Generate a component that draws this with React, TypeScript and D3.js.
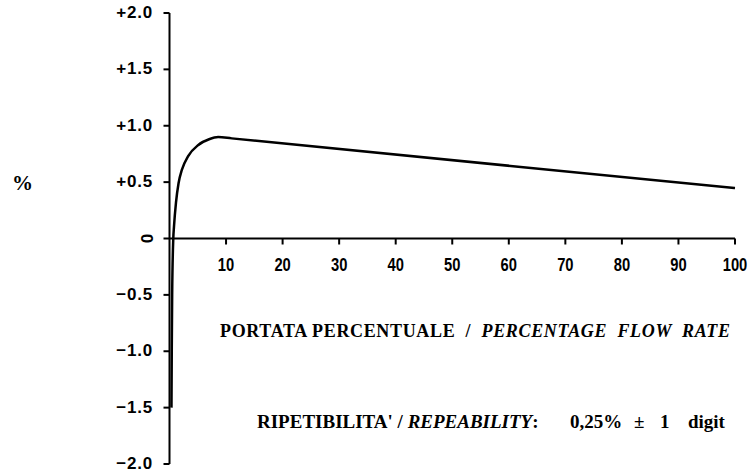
import React from "react";
import * as d3 from "d3";

// accuracy curve (percentage flow rate vs error %)
const flowRate = [0.35, 0.4, 0.47, 0.67, 0.8, 1.15, 1.6, 2.2, 3.3, 5.1, 7, 8.6, 11, 100];
const errorPct = [-1.5, -1.0, -0.5, 0, 0.11, 0.32, 0.49, 0.61, 0.73, 0.83, 0.88, 0.9, 0.888, 0.447];

const xTicks = [10, 20, 30, 40, 50, 60, 70, 80, 90, 100];
const yTicks = [2, 1.5, 1, 0.5, 0, -0.5, -1, -1.5, -2];
const yTickLabels = ["+2.0", "+1.5", "+1.0", "+0.5", "0", "\u22120.5", "\u22121.0", "\u22121.5", "\u22122.0"];

const W = 751,
  H = 472;

const App: React.FC = () => {
  const x = d3.scaleLinear().domain([0, 100]).range([169.5, 735]);
  const y = d3.scaleLinear().domain([-2, 2]).range([464, 13]);

  const pts: [number, number][] = flowRate.map((f, i) => [f, errorPct[i]]);
  const line = d3
    .line<[number, number]>()
    .x((d) => x(d[0]))
    .y((d) => y(d[1]))
    .curve(d3.curveMonotoneX);

  const sans = "'Liberation Sans', Arial, sans-serif";
  const serif = "'Liberation Serif', 'Times New Roman', serif";

  return (
    <svg
      width={W}
      height={H}
      style={{ position: "absolute", left: 0, top: 0, background: "#fff" }}
    >
      {/* y axis */}
      <line x1={x(0)} x2={x(0)} y1={y(2)} y2={y(-2)} stroke="#000" strokeWidth={2} />
      {yTicks.map((t, i) => (
        <g key={t}>
          <line x1={x(0) - 6} x2={x(0)} y1={y(t)} y2={y(t)} stroke="#000" strokeWidth={2} />
          {t === 0 ? (
            <text
              transform={`translate(146.5, ${y(t)}) rotate(90)`}
              textAnchor="middle"
              dominantBaseline="central"
              fontFamily={sans}
              fontWeight="bold"
              fontSize={17}
            >
              0
            </text>
          ) : (
            <text
              x={153}
              y={y(t) + 5}
              textAnchor="end"
              fontFamily={sans}
              fontWeight="bold"
              fontSize={17}
              letterSpacing={0.8}
            >
              {yTickLabels[i]}
            </text>
          )}
        </g>
      ))}

      {/* x axis */}
      <line x1={x(0)} x2={x(100)} y1={y(0)} y2={y(0)} stroke="#000" strokeWidth={2} />
      {xTicks.map((t) => (
        <g key={t}>
          <line x1={x(t)} x2={x(t)} y1={y(0)} y2={y(0) + 6} stroke="#000" strokeWidth={2} />
          <text
            transform={`translate(${x(t)}, 271) scale(0.82, 1)`}
            textAnchor="middle"
            fontFamily={sans}
            fontWeight="bold"
            fontSize={18}
          >
            {t}
          </text>
        </g>
      ))}

      {/* curve */}
      <path d={line(pts) || ""} fill="none" stroke="#000" strokeWidth={2.5} />

      {/* y label */}
      <text x={12} y={190} fontFamily={serif} fontWeight="bold" fontSize={21}>
        %
      </text>

      {/* captions */}
      <g fontFamily={serif} fontWeight="bold">
        <text x={220} y={337} fontSize={18} xmlSpace="preserve" textLength={510} lengthAdjust="spacing">
          <tspan>{"PORTATA PERCENTUALE  /  "}</tspan>
          <tspan fontStyle="italic">{"PERCENTAGE  FLOW  RATE"}</tspan>
        </text>

        <text x={257} y={428} fontSize={19} xmlSpace="preserve">
          <tspan>{"RIPETIBILITA' / "}</tspan>
          <tspan fontStyle="italic">{"REPEABILITY"}</tspan>
          <tspan>{":"}</tspan>
        </text>
        <text x={570} y={428} fontSize={19}>0,25%</text>
        <text x={634} y={428} fontSize={19}>±</text>
        <text x={660} y={428} fontSize={19}>1</text>
        <text x={688} y={428} fontSize={19}>digit</text>
      </g>
    </svg>
  );
};

export default App;
